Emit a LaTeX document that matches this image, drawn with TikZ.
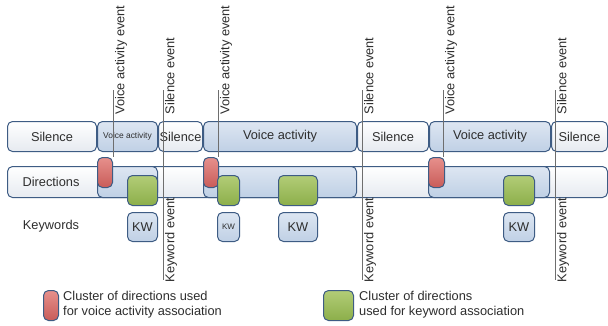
\documentclass[tikz,border=0pt]{standalone}
\usepackage{fontspec}
\setmainfont{Liberation Sans}
\definecolor{bord}{HTML}{3E5C84}
\definecolor{wbot}{HTML}{E6EAF0}
\definecolor{btop}{HTML}{DDE6F2}
\definecolor{bbot}{HTML}{BFD0E5}
\definecolor{rtop}{HTML}{E6908C}
\definecolor{rbot}{HTML}{C95C59}
\definecolor{gtop}{HTML}{B2CD77}
\definecolor{gbot}{HTML}{8CAE4A}
\definecolor{evcol}{HTML}{6E6E6E}
\definecolor{txt}{HTML}{2E2E2E}
\begin{document}
\begin{tikzpicture}[x=1pt,y=-1pt,
  box/.style={draw=bord, line width=1pt, rounded corners=5pt, anchor=north west, inner sep=0pt, text=txt},
  wbox/.style={box, top color=white, bottom color=wbot},
  bbox/.style={box, top color=btop, bottom color=bbot},
  rbox/.style={box, top color=rtop, bottom color=rbot},
  gbox/.style={box, top color=gtop, bottom color=gbot},
  evline/.style={draw=evcol, line width=0.6pt},
  big/.style={font=\fontsize{12.8}{15}\selectfont},
  small/.style={font=\fontsize{8.4}{10}\selectfont},
  evtext/.style={rotate=90, anchor=north west, inner sep=0.5pt, big, text=txt},
  lbl/.style={big, text=txt},
]
\useasboundingbox[fill=white] (0,0) rectangle (608,325);

% row 1: voice activity / silence
\node[wbox, big, minimum width=89pt, minimum height=30pt] (s1) at (7,121) {Silence};
\node[bbox, small, minimum width=60pt, minimum height=30pt] (v1) at (97,121) {Voice activity};
\node[wbox, big, minimum width=44pt, minimum height=30pt] (s2) at (158,121) {Silence};
\node[bbox, big, minimum width=153pt, minimum height=30pt] (v2) at (203,121) {Voice activity};
\node[wbox, big, minimum width=71pt, minimum height=30pt] (s3) at (357,121) {Silence};
\node[bbox, big, minimum width=121pt, minimum height=30pt] (v3) at (429,121) {Voice activity};
\node[wbox, big, minimum width=56pt, minimum height=30pt] (s4) at (551,121) {Silence};

% row 2: directions
\node[wbox, minimum width=600pt, minimum height=31pt] (dir) at (7,166) {};
\node[lbl] (dirl) at (51,181.5) {Directions};
\node[bbox, minimum width=60pt, minimum height=31pt] (d1) at (97,166) {};
\node[bbox, minimum width=153pt, minimum height=31pt] (d2) at (203,166) {};
\node[bbox, minimum width=121pt, minimum height=31pt] (d3) at (428,166) {};

% event lines and labels
\coordinate (va1t) at (113,90); \coordinate (va1b) at (113,157);
\coordinate (va2t) at (218,90); \coordinate (va2b) at (218,157);
\coordinate (va3t) at (443,90); \coordinate (va3b) at (443,157);
\coordinate (se1t) at (163,90); \coordinate (se1b) at (163,197);
\coordinate (se2t) at (362,90); \coordinate (se2b) at (362,197);
\coordinate (se3t) at (555,90); \coordinate (se3b) at (555,197);
\coordinate (ke1b) at (163,280);
\coordinate (ke2b) at (362,280);
\coordinate (ke3b) at (555,280);
\draw[evline] (va1t) -- (va1b);
\draw[evline] (va2t) -- (va2b);
\draw[evline] (va3t) -- (va3b);
\draw[evline] (se1t) -- (se1b);
\draw[evline] (se2t) -- (se2b);
\draw[evline] (se3t) -- (se3b);
\draw[evline] (se1b) -- (ke1b);
\draw[evline] (se2b) -- (ke2b);
\draw[evline] (se3b) -- (ke3b);
\node[evtext] (val1) at (114.5,115) {Voice activity event};
\node[evtext] (val2) at (219.5,115) {Voice activity event};
\node[evtext] (val3) at (444.5,115) {Voice activity event};
\node[evtext] (sel1) at (164.5,115) {Silence event};
\node[evtext] (sel2) at (363.5,115) {Silence event};
\node[evtext] (sel3) at (556.5,115) {Silence event};
\node[evtext] (kel1) at (164.5,283) {Keyword event};
\node[evtext] (kel2) at (363.5,283) {Keyword event};
\node[evtext] (kel3) at (556.5,283) {Keyword event};

% direction clusters
\node[rbox, minimum width=15pt, minimum height=30pt] (r1) at (97,157) {};
\node[rbox, minimum width=15pt, minimum height=30pt] (r2) at (203,157) {};
\node[rbox, minimum width=16pt, minimum height=30pt] (r3) at (428,157) {};
\node[gbox, minimum width=30pt, minimum height=30pt] (g1) at (127,175) {};
\node[gbox, minimum width=22pt, minimum height=30pt] (g2) at (217,175) {};
\node[gbox, minimum width=39pt, minimum height=30pt] (g3) at (278,175) {};
\node[gbox, minimum width=31pt, minimum height=30pt] (g4) at (503,175) {};

% keywords
\node[lbl] (kwl) at (51,226.5) {Keywords};
\node[bbox, big, minimum width=30pt, minimum height=29pt] (k1) at (127,212) {KW};
\node[bbox, font=\fontsize{8}{9}\selectfont, minimum width=22pt, minimum height=29pt] (k2) at (217,212) {KW};
\node[bbox, big, minimum width=39pt, minimum height=29pt] (k3) at (278,212) {KW};
\node[bbox, big, minimum width=31pt, minimum height=29pt] (k4) at (503,212) {KW};

% legend
\node[rbox, minimum width=15pt, minimum height=30pt] (lr) at (43,290) {};
\node[lbl, anchor=west, align=left, inner sep=0pt] (lrt) at (63,305) {Cluster of directions used\\for voice activity association};
\node[gbox, minimum width=30pt, minimum height=30pt] (lg) at (323,290) {};
\node[lbl, anchor=west, align=left, inner sep=0pt] (lgt) at (359,305) {Cluster of directions\\used for keyword association};
\end{tikzpicture}
\end{document}
